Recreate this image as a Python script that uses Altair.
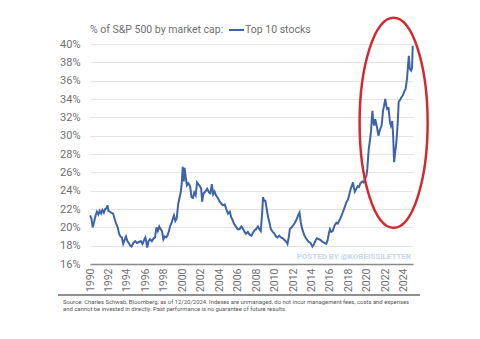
import altair as alt
import pandas as pd

years = [1990.00, 1990.15, 1990.30, 1990.45, 1990.60, 1990.75, 1990.90, 1991.05, 1991.20, 1991.35,
         1991.50, 1991.65, 1991.80, 1991.90, 1992.00, 1992.15, 1992.30, 1992.50, 1992.65, 1992.80,
         1993.00, 1993.15, 1993.30, 1993.45, 1993.60, 1993.75, 1993.90, 1994.05, 1994.20, 1994.35,
         1994.50, 1994.70, 1994.90, 1995.10, 1995.30, 1995.50, 1995.70, 1995.85, 1996.00, 1996.10,
         1996.20, 1996.35, 1996.50, 1996.70, 1996.90, 1997.05, 1997.20, 1997.35, 1997.50, 1997.65,
         1997.80, 1997.95, 1998.10, 1998.25, 1998.40, 1998.55, 1998.70, 1998.85, 1999.00, 1999.10,
         1999.25, 1999.40, 1999.55, 1999.70, 1999.85, 1999.95, 2000.05, 2000.15, 2000.25, 2000.35,
         2000.50, 2000.65, 2000.85, 2001.00, 2001.15, 2001.30, 2001.45, 2001.60, 2001.75, 2001.90,
         2002.05, 2002.15, 2002.30, 2002.50, 2002.70, 2002.90, 2003.05, 2003.20, 2003.35, 2003.50,
         2003.65, 2003.85, 2004.00, 2004.20, 2004.40, 2004.60, 2004.80, 2004.95, 2005.15, 2005.30,
         2005.45, 2005.60, 2005.80, 2006.00, 2006.20, 2006.40, 2006.55, 2006.75, 2006.90, 2007.10,
         2007.30, 2007.50, 2007.70, 2007.85, 2008.00, 2008.20, 2008.35, 2008.50, 2008.65, 2008.75,
         2008.85, 2009.00, 2009.15, 2009.30, 2009.45, 2009.60, 2009.80, 2010.00, 2010.15, 2010.30,
         2010.50, 2010.70, 2010.90, 2011.10, 2011.30, 2011.40, 2011.55, 2011.65, 2011.85, 2012.00,
         2012.20, 2012.40, 2012.55, 2012.70, 2012.85, 2013.00, 2013.20, 2013.40, 2013.55, 2013.70,
         2013.90, 2014.10, 2014.25, 2014.45, 2014.60, 2014.80, 2015.00, 2015.20, 2015.40, 2015.60,
         2015.75, 2015.90, 2016.00, 2016.15, 2016.30, 2016.50, 2016.70, 2016.85, 2017.00, 2017.15,
         2017.30, 2017.45, 2017.60, 2017.80, 2017.95, 2018.10, 2018.25, 2018.40, 2018.50, 2018.60,
         2018.70, 2018.85, 2019.00, 2019.15, 2019.30, 2019.50, 2019.65, 2019.80, 2019.95, 2020.05,
         2020.20, 2020.35, 2020.45, 2020.60, 2020.70, 2020.80, 2020.90, 2021.00, 2021.10, 2021.25,
         2021.40, 2021.60, 2021.75, 2021.85, 2022.00, 2022.10, 2022.20, 2022.35, 2022.50, 2022.60,
         2022.75, 2022.85, 2022.95, 2023.05, 2023.20, 2023.35, 2023.45, 2023.60, 2023.75, 2023.90,
         2024.05, 2024.20, 2024.35, 2024.45, 2024.55, 2024.65, 2024.80, 2024.90, 2024.97]

top10_pct = [21.3, 21.0, 20.0, 20.6, 21.3, 21.7, 21.4, 21.8, 21.5, 21.9,
             21.6, 22.0, 22.1, 22.4, 21.8, 21.7, 21.6, 21.5, 21.0, 20.5,
             20.0, 19.3, 19.0, 18.9, 18.2, 18.6, 19.0, 18.5, 18.3, 18.0,
             17.9, 18.3, 18.5, 18.3, 18.4, 18.5, 18.2, 18.6, 18.9, 18.4,
             17.8, 18.5, 18.7, 18.5, 18.8, 18.9, 20.0, 19.6, 20.1, 19.8,
             19.6, 18.7, 19.0, 18.9, 19.1, 19.6, 20.2, 20.5, 21.0, 21.3,
             20.7, 21.0, 22.5, 23.2, 23.9, 24.9, 26.6, 25.0, 26.5, 25.6,
             24.6, 24.8, 24.5, 23.3, 23.2, 23.8, 23.5, 24.9, 24.7, 24.5,
             24.2, 22.8, 23.7, 23.9, 24.2, 23.8, 23.7, 24.7, 23.6, 23.9,
             23.5, 23.2, 22.9, 22.6, 22.4, 22.5, 21.9, 21.5, 21.7, 21.1,
             20.8, 20.4, 20.1, 19.8, 19.8, 20.1, 19.9, 19.5, 19.3, 19.5,
             19.2, 19.1, 19.5, 19.7, 19.8, 20.1, 19.8, 19.6, 21.5, 23.3,
             22.9, 22.9, 22.0, 21.1, 20.5, 19.8, 19.5, 19.3, 19.0, 18.9,
             19.1, 18.9, 18.8, 18.6, 18.4, 18.2, 19.0, 19.8, 20.0, 20.2,
             20.5, 20.9, 21.3, 21.6, 20.5, 19.8, 19.2, 18.8, 18.6, 18.4,
             18.3, 17.9, 18.1, 18.6, 18.8, 18.7, 18.6, 18.4, 18.3, 18.2,
             18.6, 19.4, 19.8, 19.5, 19.6, 20.2, 20.5, 20.4, 20.7, 21.0,
             21.4, 21.8, 22.2, 22.8, 23.0, 23.6, 24.2, 24.6, 24.9, 24.3,
             23.9, 24.2, 24.5, 24.4, 24.8, 25.0, 24.9, 25.3, 25.6, 26.4,
             28.5, 29.6, 30.5, 32.7, 31.5, 31.1, 31.8, 31.4, 30.9, 30.0,
             30.6, 31.1, 32.7, 33.2, 34.0, 33.3, 32.9, 33.0, 31.5, 31.1,
             31.6, 30.0, 27.1, 28.0, 29.3, 31.5, 33.7, 33.9, 34.2, 34.4,
             34.8, 35.1, 36.2, 37.5, 38.7, 37.3, 37.1, 37.4, 39.8]

x_ticks = list(range(1990, 2025, 2))
y_ticks = list(range(16, 41, 2))

title_text = "% of S&P 500 by market cap:"
series_name = "Top 10 stocks"
watermark = "POSTED BY @KOBEISSILETTER"
source_line1 = "Source: Charles Schwab, Bloomberg, as of 12/20/2024. Indexes are unmanaged, do not incur management fees, costs and expenses"
source_line2 = "and cannot be invested in directly. Past performance is no guarantee of future results."
highlight_year = [2022.9]
highlight_pct = [31.4]

FONT = "Roboto"
LINE_BLUE = "#3d63a8"
GRAY = "#707070"

df = pd.DataFrame({"year": years, "pct": top10_pct})


def one():
    return alt.Data(values=[{"a": 1}])


x_scale = alt.Scale(domain=[1990, 2025], nice=False, zero=False)
y_scale = alt.Scale(domain=[16, 40], nice=False, zero=False)

x_axis = alt.Axis(values=x_ticks, format="d", labelAngle=-90, title=None,
                  grid=False, ticks=False, domain=True, domainColor="#8a8a8a",
                  domainWidth=1.5, labelFont=FONT, labelFontSize=10.5,
                  labelColor=GRAY, labelPadding=4, labelOverlap=False)
y_axis = alt.Axis(values=y_ticks, labelExpr="datum.value + '%'", title=None,
                  grid=True, gridColor="#e4e4e4", gridWidth=1, ticks=False,
                  domain=False, labelFont=FONT, labelFontSize=11,
                  labelColor=GRAY, labelPadding=10, labelOverlap=False)

line = alt.Chart(df).mark_line(color=LINE_BLUE, strokeWidth=2).encode(
    x=alt.X("year:Q", scale=x_scale, axis=x_axis),
    y=alt.Y("pct:Q", scale=y_scale, axis=y_axis),
)

title = alt.Chart(one()).mark_text(text=title_text, font=FONT, fontSize=10.5, color=GRAY,
                                   align="left", baseline="middle").encode(
    x=alt.value(0), y=alt.value(-14))
legend_line = alt.Chart(one()).mark_rule(color=LINE_BLUE, strokeWidth=2).encode(
    x=alt.value(139), x2=alt.value(154), y=alt.value(-14))
legend_text = alt.Chart(one()).mark_text(text=series_name, font=FONT, fontSize=10.5, color=GRAY,
                                         align="left", baseline="middle").encode(
    x=alt.value(155), y=alt.value(-14))

wm = alt.Chart(one()).mark_text(text=watermark, font=FONT, fontSize=8, fontWeight="bold",
                                color="#c9d5ec", align="right", baseline="middle").encode(
    x=alt.value(321), y=alt.value(213))

sep = alt.Chart(one()).mark_rule(color="#6a6a6a", strokeWidth=1.5).encode(
    x=alt.value(-32), x2=alt.value(330), y=alt.value(251))

src1 = alt.Chart(one()).mark_text(text=source_line1, font=FONT, fontSize=5.9, color="#555555",
                                  align="left", baseline="middle").encode(
    x=alt.value(-27), y=alt.value(258))
src2 = alt.Chart(one()).mark_text(text=source_line2, font=FONT, fontSize=5.9, color="#555555",
                                  align="left", baseline="middle").encode(
    x=alt.value(-27), y=alt.value(265))

ellipse_df = pd.DataFrame({"year": highlight_year, "pct": highlight_pct})
ellipse = alt.Chart(ellipse_df).mark_point(
    shape="M0,-1A0.324,1,0,1,1,0,1A0.324,1,0,1,1,0,-1Z",
    filled=False, stroke="#d22a30", strokeWidth=2.5, size=44100, opacity=1).encode(
    x=alt.X("year:Q", scale=x_scale, axis=x_axis), y=alt.Y("pct:Q", scale=y_scale, axis=y_axis))

chart = alt.layer(line, ellipse, title, legend_line, legend_text, wm, sep, src1, src2).properties(
    width=323, height=220,
    padding={"left": 90, "top": 44, "right": 67, "bottom": 75},
    autosize="none",
    background="white",
).configure_view(stroke=None)

chart.save("out.html", embed_options={"renderer": "svg", "actions": False})
